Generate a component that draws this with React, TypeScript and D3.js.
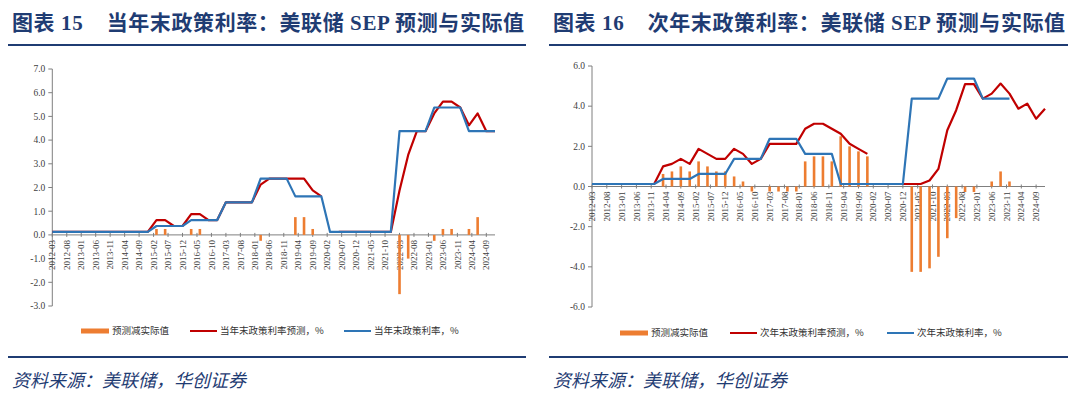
import React from "react";
import * as d3 from "d3";

// quarterly SEP meeting months
const quarters = [
  "2012-03", "2012-06", "2012-09", "2012-12",
  "2013-03", "2013-06", "2013-09", "2013-12",
  "2014-03", "2014-06", "2014-09", "2014-12",
  "2015-03", "2015-06", "2015-09", "2015-12",
  "2016-03", "2016-06", "2016-09", "2016-12",
  "2017-03", "2017-06", "2017-09", "2017-12",
  "2018-03", "2018-06", "2018-09", "2018-12",
  "2019-03", "2019-06", "2019-09", "2019-12",
  "2020-03", "2020-06", "2020-09", "2020-12",
  "2021-03", "2021-06", "2021-09", "2021-12",
  "2022-03", "2022-06", "2022-09", "2022-12",
  "2023-03", "2023-06", "2023-09", "2023-12",
  "2024-03", "2024-06", "2024-09", "2024-12",
];

const tickLabels = [
  "2012-03", "2012-08", "2013-01", "2013-06", "2013-11", "2014-04", "2014-09",
  "2015-02", "2015-07", "2015-12", "2016-05", "2016-10", "2017-03", "2017-08",
  "2018-01", "2018-06", "2018-11", "2019-04", "2019-09", "2020-02", "2020-07",
  "2020-12", "2021-05", "2021-10", "2022-03", "2022-08", "2023-01", "2023-06",
  "2023-11", "2024-04", "2024-09",
];

// 图表15：当年末
const currentSep = [
  0.125, 0.125, 0.125, 0.125, 0.125, 0.125, 0.125, 0.125, 0.125, 0.125, 0.125, 0.125,
  0.625, 0.625, 0.375, 0.375, 0.875, 0.875, 0.625, 0.625, 1.375, 1.375, 1.375, 1.375,
  2.125, 2.375, 2.375, 2.375, 2.375, 2.375, 1.875, 1.625, null, 0.125, 0.125, 0.125,
  0.125, 0.125, 0.125, 0.125, 1.875, 3.375, 4.375, 4.375, 5.125, 5.625, 5.625, 5.375,
  4.625, 5.125, 4.375, 4.375,
];
const currentActual = [
  0.125, 0.125, 0.125, 0.125, 0.125, 0.125, 0.125, 0.125, 0.125, 0.125, 0.125, 0.125,
  0.375, 0.375, 0.375, 0.375, 0.625, 0.625, 0.625, 0.625, 1.375, 1.375, 1.375, 1.375,
  2.375, 2.375, 2.375, 2.375, 1.625, 1.625, 1.625, 1.625, 0.125, 0.125, 0.125, 0.125,
  0.125, 0.125, 0.125, 0.125, 4.375, 4.375, 4.375, 4.375, 5.375, 5.375, 5.375, 5.375,
  4.375, 4.375, 4.375, 4.375,
];
const currentDiff = [
  0, 0, 0, 0, 0, 0, 0, 0, 0, 0, 0, 0,
  0.25, 0.25, 0, 0, 0.25, 0.25, 0, 0, 0, 0, 0, 0,
  -0.25, 0, 0, 0, 0.75, 0.75, 0.25, 0, null, 0, 0, 0,
  0, 0, 0, 0, -2.5, -1.0, 0, 0, -0.25, 0.25, 0.25, 0,
  0.25, 0.75, 0, 0,
];

// 图表16：次年末
const nextSep = [
  0.125, 0.125, 0.125, 0.125, 0.125, 0.125, 0.125, 0.125, 1.0, 1.125, 1.375, 1.125,
  1.875, 1.625, 1.375, 1.375, 1.875, 1.625, 1.125, 1.375, 2.125, 2.125, 2.125, 2.125,
  2.875, 3.125, 3.125, 2.875, 2.625, 2.125, 1.875, 1.625, null, 0.125, 0.125, 0.125,
  0.125, 0.125, 0.3, 0.875, 2.8, 3.8, 5.1, 5.1, 4.375, 4.625, 5.125, 4.625,
  3.875, 4.125, 3.375, 3.875,
];
const nextActual = [
  0.125, 0.125, 0.125, 0.125, 0.125, 0.125, 0.125, 0.125, 0.375, 0.375, 0.375, 0.375,
  0.625, 0.625, 0.625, 0.625, 1.375, 1.375, 1.375, 1.375, 2.375, 2.375, 2.375, 2.375,
  1.625, 1.625, 1.625, 1.625, 0.125, 0.125, 0.125, 0.125, 0.125, 0.125, 0.125, 0.125,
  4.375, 4.375, 4.375, 4.375, 5.375, 5.375, 5.375, 5.375, 4.375, 4.375, 4.375, 4.375,
  null, null, null, null,
];
const nextDiff = [
  0, 0, 0, 0, 0, 0, 0, 0, 0.625, 0.75, 1.0, 0.75,
  1.25, 1.0, 0.75, 0.75, 0.5, 0.25, -0.25, 0, -0.25, -0.25, -0.25, -0.25,
  1.25, 1.5, 1.5, 1.25, 2.5, 2.0, 1.75, 1.5, null, 0, 0, 0,
  -4.25, -4.25, -4.075, -3.5, -2.575, -1.575, -0.275, -0.275, 0, 0.25, 0.75, 0.25,
  null, null, null, null,
];

const leftYTicks = [7, 6, 5, 4, 3, 2, 1, 0, -1, -2, -3];
const rightYTicks = [6, 4, 2, 0, -2, -4, -6];

const RED = "#c00000";
const BLUE = "#2e75b6";
const ORANGE = "#ed7d31";
const NAVY = "#1f3c73";
const AXIS = "#7f7f7f";

// months since 2012-03
const monthIndex = (s: string) => {
  const [yy, mm] = s.split("-").map(Number);
  return (yy - 2012) * 12 + (mm - 3);
};

type PanelProps = {
  x0: number;
  x1: number;
  yTop: number;
  yBottom: number;
  yDomain: [number, number];
  yTicks: number[];
  sep: (number | null)[];
  actual: (number | null)[];
  diff: (number | null)[];
  title: string;
  lineLeft: number;
  lineRight: number;
  legendY: number;
  legendX: [number, number, number];
  sepLabel: string;
  actualLabel: string;
};

function Panel(p: PanelProps) {
  const x = d3.scaleLinear().domain([0, 153]).range([p.x0, p.x1]);
  const y = d3.scaleLinear().domain(p.yDomain).range([p.yBottom, p.yTop]);
  const y0 = y(0);

  const line = d3
    .line<number | null>()
    .defined((d) => d != null)
    .x((_, i) => x(monthIndex(quarters[i])))
    .y((d) => y(d as number));

  const barW = 2.6;

  return (
    <g>
      {/* title */}
      <text
        x={p.lineLeft + 4}
        y={30}
        fontSize={21}
        letterSpacing={0.6}
        fontWeight="bold"
        fill={NAVY}
        fontFamily="'Liberation Serif', 'Noto Sans CJK SC', serif"
        style={{ whiteSpace: "pre" }}
      >
        {p.title}
      </text>
      <line x1={p.lineLeft} x2={p.lineRight} y1={45} y2={45} stroke={NAVY} strokeWidth={2.2} />

      {/* y axis */}
      <line x1={p.x0} x2={p.x0} y1={p.yTop} y2={p.yBottom} stroke={AXIS} strokeWidth={1} />
      {p.yTicks.map((t) => (
        <g key={t}>
          <line x1={p.x0 - 4} x2={p.x0} y1={y(t)} y2={y(t)} stroke={AXIS} />
          <text
            x={p.x0 - 7}
            y={y(t)}
            dy="0.35em"
            textAnchor="end"
            fontSize={9.5}
            fill="#404040"
            fontFamily="'Liberation Serif', serif"
          >
            {t.toFixed(1)}
          </text>
        </g>
      ))}

      {/* x axis */}
      <line x1={p.x0} x2={p.x1} y1={y0} y2={y0} stroke={AXIS} strokeWidth={1} />
      {tickLabels.map((t) => {
        const tx = x(monthIndex(t));
        return (
          <g key={t}>
            <line x1={tx} x2={tx} y1={y0 - 2} y2={y0 + 2} stroke={AXIS} />
            <text
              transform={`translate(${tx},${y0 + 5}) rotate(-90)`}
              dy="0.35em"
              textAnchor="end"
              fontSize={9}
              fill="#404040"
              fontFamily="'Liberation Serif', serif"
            >
              {t}
            </text>
          </g>
        );
      })}

      {/* bars */}
      {p.diff.map((d, i) =>
        d == null || d === 0 ? null : (
          <rect
            key={i}
            x={x(monthIndex(quarters[i])) - barW / 2}
            y={Math.min(y(d), y0)}
            width={barW}
            height={Math.abs(y(d) - y0)}
            fill={ORANGE}
          />
        )
      )}

      {/* lines */}
      <path d={line(p.sep) ?? ""} fill="none" stroke={RED} strokeWidth={2.2} strokeLinejoin="round" />
      <path d={line(p.actual) ?? ""} fill="none" stroke={BLUE} strokeWidth={2.2} strokeLinejoin="round" />

      {/* legend */}
      <g fontSize={9.5} fill="#333" fontFamily="'Noto Sans CJK SC', sans-serif">
        <rect x={p.legendX[0]} y={p.legendY - 2.5} width={28} height={5} fill={ORANGE} />
        <text x={p.legendX[0] + 31} y={p.legendY} dy="0.35em">预测减实际值</text>
        <line x1={p.legendX[1]} x2={p.legendX[1] + 27} y1={p.legendY} y2={p.legendY} stroke={RED} strokeWidth={2} />
        <text x={p.legendX[1] + 30} y={p.legendY} dy="0.35em">{p.sepLabel}</text>
        <line x1={p.legendX[2]} x2={p.legendX[2] + 27} y1={p.legendY} y2={p.legendY} stroke={BLUE} strokeWidth={2} />
        <text x={p.legendX[2] + 30} y={p.legendY} dy="0.35em">{p.actualLabel}</text>
      </g>

      {/* source */}
      <line x1={p.lineLeft} x2={p.lineRight} y1={357} y2={357} stroke={NAVY} strokeWidth={2.2} />
      <text
        x={p.lineLeft + 4}
        y={387}
        fontSize={18}
        fontStyle="italic"
        fill={NAVY}
        fontFamily="'Noto Sans CJK SC', sans-serif"
      >
        资料来源：美联储，华创证券
      </text>
    </g>
  );
}

export default function App() {
  return (
    <svg
      width={1080}
      height={399}
      style={{ position: "absolute", left: 0, top: 0, background: "#fff" }}
    >
      <Panel
        x0={52.3}
        x1={495}
        yTop={69}
        yBottom={306}
        yDomain={[-3, 7]}
        yTicks={leftYTicks}
        sep={currentSep}
        actual={currentActual}
        diff={currentDiff}
        title={"图表 15    当年末政策利率：美联储 SEP 预测与实际值"}
        lineLeft={8}
        lineRight={526}
        legendY={331}
        legendX={[81, 190, 344]}
        sepLabel="当年末政策利率预测，%"
        actualLabel="当年末政策利率，%"
      />
      <Panel
        x0={592}
        x1={1045}
        yTop={66}
        yBottom={307}
        yDomain={[-6, 6]}
        yTicks={rightYTicks}
        sep={nextSep}
        actual={nextActual}
        diff={nextDiff}
        title={"图表 16    次年末政策利率：美联储 SEP 预测与实际值"}
        lineLeft={549}
        lineRight={1068}
        legendY={333}
        legendX={[620, 730, 887]}
        sepLabel="次年末政策利率预测，%"
        actualLabel="次年末政策利率，%"
      />
    </svg>
  );
}
